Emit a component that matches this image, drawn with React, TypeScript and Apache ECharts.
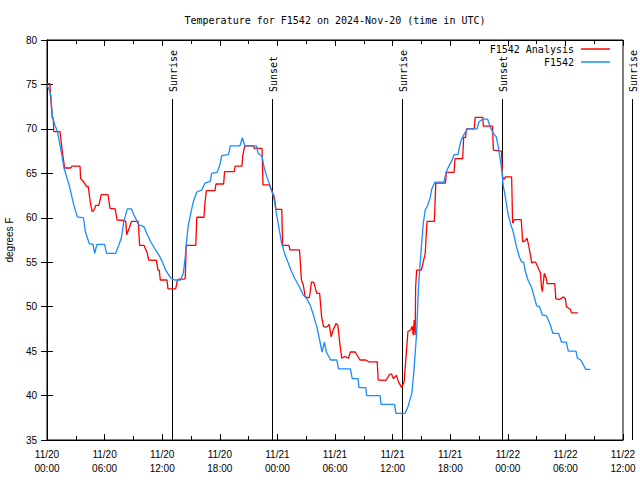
import { useEffect, useRef } from "react";
import * as echarts from "echarts";

const TITLE = "Temperature for F1542 on 2024-Nov-20 (time in UTC)";
const Y_NAME = "degrees F";
const SERIES_NAMES = ["F1542 Analysis", "F1542"];

const xTickLabels = [
  "11/20\n00:00", "11/20\n06:00", "11/20\n12:00", "11/20\n18:00",
  "11/21\n00:00", "11/21\n06:00", "11/21\n12:00", "11/21\n18:00",
  "11/22\n00:00", "11/22\n06:00", "11/22\n12:00",
];

// hours since 11/20 00:00 UTC, degrees F
const analysis: [number, number][] = [
  [0, 75.1], [0.3, 75.1], [0.35, 74], [0.45, 72.7], [0.55, 71.2], [0.66, 71.2], [0.7, 69.7], [1.35, 69.7],
  [1.6, 67.4], [1.84, 65.6], [2.47, 65.6], [2.6, 65.8], [3.44, 65.8], [3.5, 64.4], [3.8, 64.06], [4.13, 63.5],
  [4.3, 63.5], [4.5, 61.8], [4.7, 60.7], [4.85, 60.8], [5.1, 61.4], [5.4, 61.4], [5.65, 62.6], [6.35, 62.6],
  [6.56, 61.06], [7.1, 61], [7.3, 59.75], [8.0, 59.7], [8.2, 59.6], [8.3, 58.1], [8.55, 58.8], [8.8, 59.6],
  [9.5, 59.6], [9.65, 56.9], [10.1, 56.9], [10.45, 56], [10.6, 55.25], [11.4, 55.2], [11.56, 54.1], [11.7, 54.1],
  [11.8, 53], [12.5, 53], [12.6, 52], [13.4, 52], [13.6, 53], [13.7, 53.1], [14.3, 53.1], [14.4, 53.2],
  [14.5, 56.9], [15.5, 56.9], [15.6, 60.06], [16.35, 60.06], [16.45, 61.6], [16.6, 63.06], [17.5, 63.06],
  [17.6, 63.8], [18.4, 63.8], [18.5, 65.2], [19.5, 65.2], [19.6, 65.8], [20.3, 65.8], [20.4, 67.06],
  [20.6, 68.1], [21.5, 68.1], [21.6, 67.8], [22.4, 67.8], [22.5, 63.7], [23.2, 63.7], [23.3, 63.3],
  [23.6, 62.6], [23.7, 62.2], [23.85, 60.95], [24.45, 60.95], [24.55, 56.9], [25.2, 56.9], [25.3, 56.4],
  [26.3, 56.4], [26.35, 55.6], [26.5, 53], [26.7, 52.4], [26.9, 51.1], [27.3, 51], [27.4, 51.5], [27.55, 52.8],
  [27.8, 52.7], [28.1, 51.5], [28.4, 51.5], [28.6, 48.9], [28.8, 47.75], [29.0, 47.7], [29.2, 47.75],
  [29.4, 48], [29.6, 46.6], [29.75, 47.2], [30.1, 48.1], [30.3, 47.9], [30.5, 45.9], [30.7, 44.2], [31.0, 44.4],
  [31.4, 44.2], [31.6, 44.9], [32.1, 44.9], [32.6, 44], [33.2, 44], [33.5, 43.8], [34.4, 43.8], [34.5, 41.75],
  [35.3, 41.7], [35.7, 42.4], [35.9, 42.4], [36.1, 41.9], [36.4, 42.3], [36.6, 41.56], [36.95, 40.9],
  [37.2, 41.56], [37.4, 44.4], [37.6, 47.2], [37.9, 47.4], [38.05, 47.8], [38.15, 46.8], [38.25, 48.5],
  [38.35, 46.8], [38.4, 52.2], [38.5, 54.1], [39.0, 54.1], [39.2, 55.06], [39.4, 56], [39.55, 59], [39.6, 59.6],
  [40.35, 59.6], [40.5, 63.9], [41.5, 63.9], [41.6, 65.1], [42.4, 65.1], [42.5, 66.65], [43.3, 66.65],
  [43.4, 69.05], [43.6, 69.05], [43.7, 70], [44.5, 70], [44.6, 71.3], [45.4, 71.3], [45.45, 70.3], [46.4, 70.3],
  [46.5, 67.6], [47.35, 67.5], [47.45, 64.6], [47.6, 64.3], [47.75, 64.6], [48.4, 64.6], [48.5, 59.4],
  [48.7, 59.8], [49.4, 59.8], [49.55, 57.3], [49.8, 57.4], [50.0, 57.7], [50.2, 56.75], [50.5, 54.9],
  [50.6, 55], [50.9, 55], [51.2, 54.3], [51.4, 53.8], [51.5, 52.25], [51.6, 51.7], [51.8, 53.75], [52.0, 53.2],
  [52.1, 52.6], [52.9, 52.6], [53.0, 50.9], [53.4, 50.8], [53.8, 51.1], [54.0, 50.9], [54.1, 50], [54.5, 49.7],
  [54.65, 49.3], [55.3, 49.3],
];

const observed: [number, number][] = [
  [0, 74.9], [0.2, 74.5], [0.4, 73.8], [0.55, 71.5], [0.8, 70.5], [1.08, 69.7], [1.42, 67.8], [1.77, 65.6],
  [2.3, 63.7], [2.8, 61.4], [3.16, 60.1], [3.8, 60], [4.0, 58.4], [4.4, 57.1], [4.8, 57], [4.97, 56], [5.2, 57],
  [6.0, 57], [6.2, 56], [7.15, 56], [7.5, 57], [7.74, 57.7], [8.0, 59.6], [8.37, 61], [8.8, 61], [9.06, 60.3],
  [9.58, 59.2], [10.1, 59], [10.45, 58.1], [10.8, 57.3], [11.3, 56.4], [11.67, 55.8], [12.0, 55.1],
  [12.36, 54.1], [12.9, 53.2], [13.3, 53], [13.9, 53], [14.2, 53.75], [14.4, 55.6], [14.55, 57.5], [14.7, 59],
  [14.97, 60.5], [15.24, 61.8], [15.6, 62.9], [16.1, 63.1], [16.46, 63.9], [17.0, 64.1], [17.15, 65],
  [17.7, 65.1], [18.0, 65.9], [18.2, 67], [18.9, 67.1], [19.1, 68.1], [20.1, 68.1], [20.35, 69], [20.6, 68.1],
  [21.8, 68.1], [22.0, 67.25], [22.4, 66.9], [22.6, 65.75], [22.9, 64.6], [23.2, 63.7], [23.6, 62.4],
  [23.9, 60.5], [24.2, 58.6], [24.45, 57.1], [24.8, 55.8], [25.1, 55], [25.5, 53.9], [25.8, 53.2],
  [26.35, 52.1], [26.7, 51.3], [27.05, 50.9], [27.4, 50.2], [27.7, 49.25], [28.1, 47.75], [28.4, 46.25],
  [28.65, 44.9], [28.9, 46], [29.1, 44.9], [29.55, 44], [30.2, 44], [30.35, 43], [31.6, 43], [31.8, 41.9],
  [32.4, 41.9], [32.5, 40.9], [33.2, 40.9], [33.3, 40], [34.7, 40], [34.8, 39], [36.2, 39], [36.35, 38],
  [37.3, 38], [37.6, 38.75], [38.0, 40.25], [38.2, 42.5], [38.5, 47], [38.7, 52.25], [38.85, 54.5],
  [39.0, 56.75], [39.2, 59.4], [39.4, 60.9], [39.6, 61.25], [39.9, 62.2], [40.1, 63.3], [40.4, 64],
  [41.35, 64], [41.6, 65.2], [41.9, 65.9], [42.2, 66.5], [42.4, 67.1], [42.8, 67.1], [43.1, 68.6],
  [43.4, 69.3], [43.8, 70], [44.8, 70], [45.0, 70.8], [45.4, 71.1], [45.9, 71.1], [46.15, 70.25],
  [46.5, 69.5], [46.8, 69.1], [47.0, 68], [47.2, 66.7], [47.4, 65.2], [47.5, 63.8], [47.7, 62.6],
  [47.9, 61.25], [48.05, 60.3], [48.3, 59.3], [48.6, 58.25], [48.9, 56.75], [49.2, 55.6], [49.45, 55],
  [49.65, 55], [49.8, 54.1], [50.1, 53], [50.5, 52.1], [50.8, 50.9], [51.0, 50.1], [51.3, 50], [51.6, 49.06],
  [52.0, 49], [52.4, 48.05], [52.7, 47], [53.3, 47], [53.6, 46], [54.1, 46], [54.3, 45], [55.1, 45],
  [55.25, 44.2], [55.6, 44], [55.9, 43.4], [56.1, 42.95], [56.6, 42.95],
];

const sunNames = ["Sunrise", "Sunset", "Sunrise", "Sunset", "Sunrise"];
const sunHours = [13.02, 23.47, 37.01, 47.43, 60.97];

const MONO = '"DejaVu Sans Mono", "Liberation Mono", monospace';
const SANS = '"Liberation Sans", Arial, sans-serif';
const RED = "#ff0000";
const BLUE = "#1a8cff";

export default function App() {
  const ref = useRef<HTMLDivElement>(null);

  useEffect(() => {
    const chart = echarts.init(ref.current!, null, { renderer: "svg" });
    const tick = { inside: true, length: 6, lineStyle: { color: "#000" } };
    const minor = { show: true, splitNumber: 2, length: 4, lineStyle: { color: "#000" } };
    const legendBase = {
      right: 30,
      align: "right",
      orient: "vertical",
      icon: "rect",
      itemWidth: 29,
      itemHeight: 1.5,
      selectedMode: false,
      padding: 0,
      textStyle: { fontFamily: MONO, fontSize: 10, color: "#000", padding: [0, 2, 0, 0] },
    };
    chart.setOption({
      animation: false,
      backgroundColor: "#fff",
      grid: {
        left: 47, right: 17, top: 40, bottom: 40, show: true, borderColor: "#000", borderWidth: 1,
        containLabel: false, outerBoundsMode: "none",
      },
      legend: [
        { ...legendBase, top: 44, data: [SERIES_NAMES[0]] },
        { ...legendBase, top: 57, data: [SERIES_NAMES[1]] },
      ],
      xAxis: [
        {
          type: "value", min: 0, max: 60, interval: 6,
          axisLine: { lineStyle: { color: "#000" } },
          axisTick: tick, minorTick: minor, splitLine: { show: false },
          axisLabel: {
            formatter: (v: number) => xTickLabels[Math.round(v / 6)] ?? "",
            color: "#000", fontFamily: SANS, fontSize: 10, lineHeight: 14, margin: 7,
          },
        },
        {
          type: "value", min: 0, max: 60, interval: 6, position: "top",
          axisLine: { lineStyle: { color: "#000" } },
          axisTick: tick, minorTick: minor, splitLine: { show: false }, axisLabel: { show: false },
        },
      ],
      yAxis: [
        {
          type: "value", min: 35, max: 80, interval: 5,
          name: Y_NAME, nameLocation: "middle", nameGap: 32,
          nameTextStyle: { fontFamily: SANS, fontSize: 10, color: "#000" },
          axisLine: { show: true, lineStyle: { color: "#000" } },
          axisTick: tick, splitLine: { show: false },
          axisLabel: { color: "#000", fontFamily: SANS, fontSize: 10, margin: 10 },
        },
        {
          type: "value", min: 35, max: 80, interval: 5, position: "right",
          axisLine: { show: true, lineStyle: { color: "#000" } },
          axisTick: tick, splitLine: { show: false }, axisLabel: { show: false },
        },
      ],
      series: [
        {
          name: SERIES_NAMES[0], type: "line", data: analysis, showSymbol: false, symbol: "none",
          color: RED, lineStyle: { color: RED, width: 1.3 },
        },
        {
          name: SERIES_NAMES[1], type: "line", data: observed, showSymbol: false, symbol: "none",
          color: BLUE, lineStyle: { color: BLUE, width: 1.3 },
        },
      ],
    });

    const top = chart.convertToPixel({ gridIndex: 0 }, [0, 80])[1];
    const elems: any[] = [
      {
        type: "text", x: 335, y: 20,
        style: { text: TITLE, font: `10px ${MONO}`, fill: "#000", align: "center", verticalAlign: "middle" },
      },
    ];
    sunHours.forEach((h, i) => {
      const [px, bottom] = chart.convertToPixel({ gridIndex: 0 }, [h, 35]);
      const x = Math.round(px) + 0.5;
      elems.push({
        type: "line",
        shape: { x1: x, y1: top + 59, x2: x, y2: bottom },
        style: { stroke: "#000", lineWidth: 1 },
      });
      elems.push({
        type: "text", x: x + 1, y: top + 52, rotation: Math.PI / 2,
        style: { text: sunNames[i], font: `10px ${MONO}`, fill: "#000", align: "left", verticalAlign: "middle" },
      });
    });
    chart.setOption({ graphic: elems });

    return () => chart.dispose();
  }, []);

  return <div ref={ref} style={{ position: "fixed", left: 0, top: 0, width: 640, height: 480 }} />;
}
